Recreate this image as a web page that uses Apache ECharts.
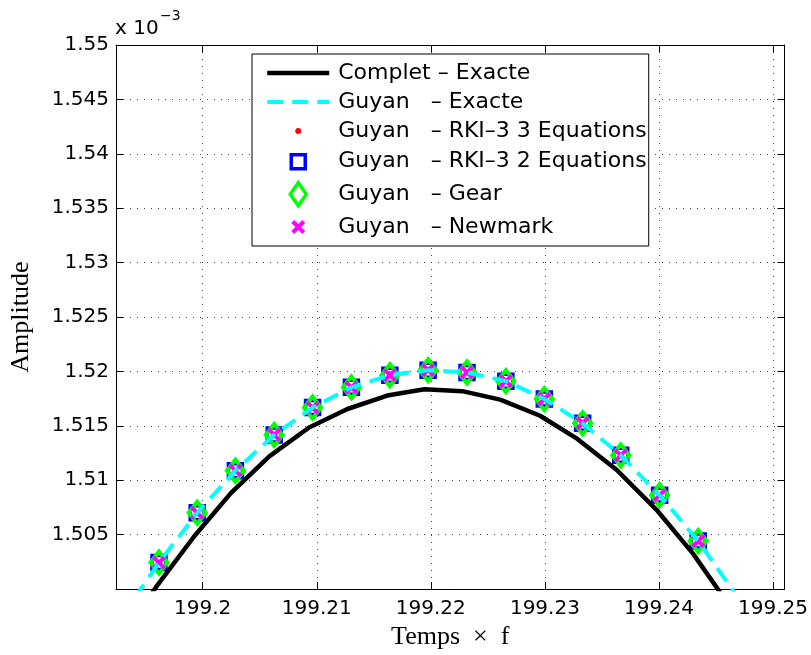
<!DOCTYPE html>
<html>
<head>
<meta charset="utf-8">
<script src="https://cdn.jsdelivr.net/npm/echarts@6/dist/echarts.min.js"></script>
<style>
  html, body { margin: 0; padding: 0; background: #fff; }
  #chart { width: 811px; height: 655px; }
</style>
</head>
<body>
<div id="chart"></div>
<script>
// Complet - Exacte (trait noir)
var completX = [199.19256, 199.19592, 199.19928, 199.20249, 199.20584, 199.20933, 199.21269, 199.21618,
    199.21944, 199.22276, 199.22608, 199.22958, 199.23285, 199.23628, 199.23977, 199.24297, 199.24634];
var completY = [1.49506, 1.50020, 1.50488, 1.50884, 1.51220, 1.51485, 1.51655, 1.51779,
    1.51837, 1.51819, 1.51741, 1.51593, 1.51380, 1.51097, 1.50731, 1.50328, 1.49823];

// Guyan - Exacte (tirets cyan)
var guyanX = [199.19280, 199.19617, 199.19952, 199.20287, 199.20627, 199.20963, 199.21304, 199.21641, 199.21976,
    199.22317, 199.22658, 199.22995, 199.23331, 199.23665, 199.24006, 199.24344, 199.24682];
var guyanY = [1.49732, 1.50244, 1.50701, 1.51088, 1.51417, 1.51668, 1.51854, 1.51966, 1.52012,
    1.51991, 1.51911, 1.51747, 1.51524, 1.51229, 1.50863, 1.50442, 1.49938];

// schemas numeriques (memes instants)
var pasX = [199.19617, 199.19952, 199.20287, 199.20627, 199.20963, 199.21304, 199.21641, 199.21976,
    199.22317, 199.22658, 199.22995, 199.23331, 199.23665, 199.24006, 199.24344];
var rki3Y = [1.50244, 1.50701, 1.51088, 1.51417, 1.51668, 1.51854, 1.51966, 1.52012,
    1.51991, 1.51911, 1.51747, 1.51524, 1.51229, 1.50863, 1.50442];
var rki2Y = [1.50244, 1.50701, 1.51088, 1.51417, 1.51668, 1.51854, 1.51966, 1.52012,
    1.51991, 1.51911, 1.51747, 1.51524, 1.51229, 1.50863, 1.50442];
var gearY = [1.50244, 1.50701, 1.51088, 1.51417, 1.51668, 1.51854, 1.51966, 1.52012,
    1.51991, 1.51911, 1.51747, 1.51524, 1.51229, 1.50863, 1.50442];
var newmarkY = [1.50244, 1.50701, 1.51088, 1.51417, 1.51668, 1.51854, 1.51966, 1.52012,
    1.51991, 1.51911, 1.51747, 1.51524, 1.51229, 1.50863, 1.50442];

var xTicks = [199.2, 199.21, 199.22, 199.23, 199.24, 199.25];
var xTickLabels = ['199.2', '199.21', '199.22', '199.23', '199.24', '199.25'];
var yTicks = [1.505, 1.51, 1.515, 1.52, 1.525, 1.53, 1.535, 1.54, 1.545, 1.55];
var yTickLabels = ['1.505', '1.51', '1.515', '1.52', '1.525', '1.53', '1.535', '1.54', '1.545', '1.55'];

var noms = ['Complet – Exacte', 'Guyan   – Exacte', 'Guyan   – RKI–3 3 Equations',
    'Guyan   – RKI–3 2 Equations', 'Guyan   – Gear', 'Guyan   – Newmark'];

function paires(xs, ys) {
    var out = [];
    for (var i = 0; i < xs.length; i++) out.push([xs[i], ys[i]]);
    return out;
}
function etiquette(ticks, labels) {
    return function (v) {
        var i = ticks.indexOf(v);
        return i >= 0 ? labels[i] : String(+v.toFixed(3));
    };
}

var sansFont = 'DejaVu Sans';
var serifFont = 'Liberation Serif';
var croix = 'path://M0,0L10,10M10,0L0,10';
var grille = { show: true, lineStyle: { color: '#444', width: 1, type: [1, 6] } };

var myChart = echarts.init(document.getElementById('chart'), null, { renderer: 'canvas' });
var option = {
    animation: false,
    backgroundColor: '#fff',
    grid: { left: 115, right: 26, top: 45, bottom: 63, containLabel: false },
    graphic: [
        { type: 'text', left: 115, top: 19, style: { text: 'x 10', font: '20px "DejaVu Sans"', fill: '#000' } },
        { type: 'text', left: 160, top: 9, style: { text: '−3', font: '14px "DejaVu Sans"', fill: '#000' } }
    ],
    legend: {
        orient: 'vertical',
        left: 252,
        top: 54,
        padding: [6, 2, 4, 13],
        itemWidth: 62,
        itemHeight: 26,
        itemGap: 3,
        backgroundColor: '#fff',
        borderColor: '#000',
        borderWidth: 1,
        selectedMode: false,
        textStyle: { fontFamily: sansFont, fontSize: 22, color: '#000', lineHeight: 26, padding: [0, 0, 0, 4] },
        data: [
            { name: noms[0], itemStyle: { opacity: 0 }, lineStyle: { color: '#000', width: 4.5, type: 'solid', opacity: 1 } },
            { name: noms[1], itemStyle: { opacity: 0 }, lineStyle: { color: '#00ffff', width: 4, type: [16, 9], opacity: 1 } },
            { name: noms[2], icon: 'path://M0,0M26,26M13,10a3,3 0 1,1 0,6a3,3 0 1,1 0,-6z',
              itemStyle: { color: '#ff0000', borderWidth: 0, opacity: 1 } },
            { name: noms[3], icon: 'path://M0,0M26,26M6,6h14v14h-14z',
              itemStyle: { color: 'rgba(0,0,0,0)', borderColor: '#0000ff', borderWidth: 3.5, opacity: 1 } },
            { name: noms[4], icon: 'path://M0,0M26,26M13,1.5L21,13L13,24.5L5,13z',
              itemStyle: { color: 'rgba(0,0,0,0)', borderColor: '#00ff00', borderWidth: 3.5, opacity: 1 } },
            { name: noms[5], icon: 'path://M0,0M26,26M7.5,7.5L18.5,18.5M18.5,7.5L7.5,18.5',
              itemStyle: { color: 'rgba(0,0,0,0)', borderColor: '#ff00ff', borderWidth: 4, opacity: 1 } }
        ]
    },
    xAxis: [{
        type: 'value',
        min: 199.1924,
        max: 199.251,
        position: 'bottom',
        name: 'Temps  ×  f',
        nameLocation: 'middle',
        nameGap: 30,
        nameTextStyle: { fontFamily: serifFont, fontSize: 26, color: '#000' },
        axisLine: { show: true, onZero: false, lineStyle: { color: '#000', width: 1 } },
        axisTick: { show: true, inside: true, length: 7, customValues: xTicks, lineStyle: { color: '#000' } },
        axisLabel: { customValues: xTicks, margin: 10, formatter: etiquette(xTicks, xTickLabels),
            fontFamily: sansFont, fontSize: 20, color: '#000' },
        splitLine: grille
    }, {
        type: 'value',
        min: 199.1924,
        max: 199.251,
        position: 'top',
        axisLine: { show: true, onZero: false, lineStyle: { color: '#000', width: 1 } },
        axisTick: { show: true, inside: true, length: 7, customValues: xTicks, lineStyle: { color: '#000' } },
        axisLabel: { show: false },
        splitLine: { show: false }
    }],
    yAxis: [{
        type: 'value',
        min: 1.5,
        max: 1.55,
        position: 'left',
        name: 'Amplitude',
        nameLocation: 'middle',
        nameGap: 82,
        nameRotate: 90,
        nameTextStyle: { fontFamily: serifFont, fontSize: 26, color: '#000' },
        axisLine: { show: true, onZero: false, lineStyle: { color: '#000', width: 1 } },
        axisTick: { show: true, inside: true, length: 7, customValues: yTicks, lineStyle: { color: '#000' } },
        axisLabel: { customValues: yTicks, margin: 7, formatter: etiquette(yTicks, yTickLabels),
            fontFamily: sansFont, fontSize: 20, color: '#000' },
        splitLine: grille
    }, {
        type: 'value',
        min: 1.5,
        max: 1.55,
        position: 'right',
        axisLine: { show: true, onZero: false, lineStyle: { color: '#000', width: 1 } },
        axisTick: { show: true, inside: true, length: 7, customValues: yTicks, lineStyle: { color: '#000' } },
        axisLabel: { show: false },
        splitLine: { show: false }
    }],
    series: [{
        name: noms[0],
        type: 'line',
        data: paires(completX, completY),
        symbol: 'none',
        silent: true,
        lineStyle: { color: '#000', width: 4.5 },
        itemStyle: { color: '#000' }
    }, {
        name: noms[1],
        type: 'line',
        data: paires(guyanX, guyanY),
        symbol: 'none',
        silent: true,
        lineStyle: { color: '#00ffff', width: 4, type: [16, 9] },
        itemStyle: { color: '#00ffff' }
    }, {
        name: noms[2],
        type: 'scatter',
        data: paires(pasX, rki3Y),
        symbol: 'circle',
        symbolSize: 5,
        silent: true,
        itemStyle: { color: '#ff0000', opacity: 1 }
    }, {
        name: noms[3],
        type: 'scatter',
        data: paires(pasX, rki2Y),
        symbol: 'rect',
        symbolSize: 14,
        silent: true,
        itemStyle: { color: 'rgba(0,0,0,0)', borderColor: '#0000ff', borderWidth: 3.5, opacity: 1 }
    }, {
        name: noms[4],
        type: 'scatter',
        data: paires(pasX, gearY),
        symbol: 'diamond',
        symbolSize: [17, 22],
        silent: true,
        itemStyle: { color: 'rgba(0,0,0,0)', borderColor: '#00ff00', borderWidth: 4, opacity: 1 }
    }, {
        name: noms[5],
        type: 'scatter',
        data: paires(pasX, newmarkY),
        symbol: croix,
        symbolSize: 11,
        silent: true,
        itemStyle: { color: '#ff00ff', borderColor: '#ff00ff', borderWidth: 4, opacity: 1 }
    }]
};
myChart.setOption(option);
</script>
</body>
</html>
